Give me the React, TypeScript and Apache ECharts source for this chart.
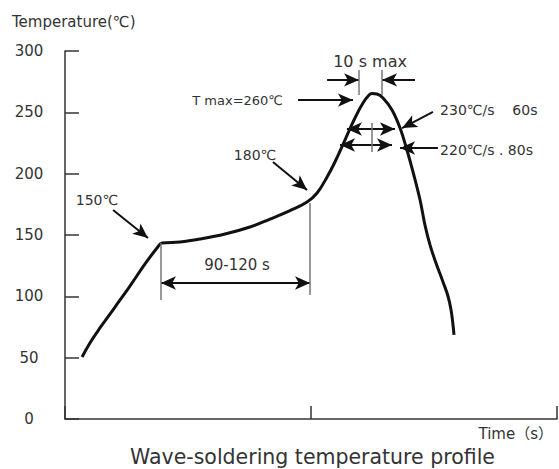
import React, { useEffect, useRef } from "react";
import * as echarts from "echarts";

// Curve (time in arbitrary seconds scale 0..300, temperature °C)
const timeS = [10.4, 15.2, 21.3, 30.5, 39.6, 48.8, 56.1, 59.1, 70.1, 82.3, 97.6, 112.8, 125.0, 137.2, 147.6, 153.7, 159.8, 164.6, 170.7, 176.8, 181.7, 185.4, 187.2, 190.2, 193.9, 199.4, 204.3, 208.5, 212.2, 216.5, 219.5, 222.6, 226.2, 230.5, 233.5, 235.4, 236.6, 237.2];
const tempC = [50.5, 62.0, 74.2, 91.3, 108.4, 126.4, 139.4, 143.5, 144.3, 146.7, 150.8, 156.5, 163.0, 169.9, 176.9, 184.2, 197.3, 209.5, 227.4, 245.4, 257.6, 264.1, 265.3, 264.9, 261.7, 251.9, 237.2, 219.3, 201.4, 178.5, 158.1, 141.8, 127.2, 111.7, 100.3, 88.9, 76.6, 68.5];
const yTicks = [0, 50, 100, 150, 200, 250, 300];
const xTicks = [0, 150, 300];

// Annotation arrows in data coordinates: [from, to]
const singleArrows: number[][][] = [
  [[29.3, 170.4], [50.6, 147.5]], // 150℃
  [[126.8, 209.5], [147.6, 186.7]], // 180℃
  [[142.1, 260], [175.6, 260]], // T max
  [[159.8, 276.4], [179.3, 276.4]], // 10 s max left
  [[213.4, 276.4], [193.3, 276.4]], // 10 s max right
  [[224.4, 250.3], [205.5, 237.2]], // 230℃/s
  [[227.4, 220.9], [204.3, 220.9]], // 220℃/s
  [[187.2, 236.4], [171.9, 236.4]],
  [[187.2, 236.4], [201.2, 236.4]],
  [[187.2, 223.4], [167.7, 223.4]],
  [[187.2, 223.4], [199.4, 223.4]],
];
const doubleArrows: number[][][] = [[[58.5, 110.9], [149.4, 110.9]]];
const guideLines: number[][][] = [
  [[58.5, 143.5], [58.5, 97]],
  [[149.4, 176], [149.4, 101]],
  [[179.3, 284.5], [179.3, 264.1]],
  [[193.3, 284.5], [193.3, 264.1]],
  [[187.2, 241.3], [187.2, 217.7]],
];
const labels: { text: string; at: number[]; align: string; size: number }[] = [
  { text: "150℃", at: [19.5, 178.5], align: "center", size: 14 },
  { text: "180℃", at: [115.9, 215.2], align: "center", size: 14 },
  { text: "90-120 s", at: [104.9, 125.5], align: "center", size: 15 },
  { text: "10 s max", at: [186, 291.8], align: "center", size: 16 },
  { text: "T max=260℃", at: [132.9, 260], align: "right", size: 13 },
  { text: "230℃/s    60s", at: [228.7, 251.9], align: "left", size: 14 },
  { text: "220℃/s . 80s", at: [228.7, 219.3], align: "left", size: 14 },
];

const FONT = "'DejaVu Sans', 'Noto Sans CJK SC', sans-serif";
const INK = "#111";
const TXT = "#333";

export default function App() {
  const ref = useRef<HTMLDivElement>(null);
  useEffect(() => {
    if (!ref.current) return;
    const chart = echarts.init(ref.current, undefined, { renderer: "svg" });
    const head = { symbol: "arrow", symbolSize: [10, 15] };
    const none = { symbol: "none" };
    const mlData: any[] = [];
    singleArrows.forEach(([a, b]) => mlData.push([{ coord: a, ...none }, { coord: b, ...head }]));
    doubleArrows.forEach(([a, b]) => mlData.push([{ coord: a, ...head }, { coord: b, ...head }]));
    guideLines.forEach(([a, b]) =>
      mlData.push([
        { coord: a, ...none, lineStyle: { color: "#777", width: 1.5, type: "solid" } },
        { coord: b, ...none },
      ])
    );
    chart.setOption({
      animation: false,
      backgroundColor: "#fff",
      grid: { left: 65, right: 2, top: 51, bottom: 50 },
      xAxis: {
        type: "value",
        min: xTicks[0],
        max: xTicks[xTicks.length - 1],
        interval: xTicks[1] - xTicks[0],
        axisLine: { lineStyle: { color: "#333", width: 1.5 } },
        axisTick: { inside: true, length: 13, lineStyle: { color: "#333", width: 1.5 } },
        axisLabel: { show: false },
        splitLine: { show: false },
      },
      yAxis: {
        type: "value",
        min: yTicks[0],
        max: yTicks[yTicks.length - 1],
        interval: yTicks[1] - yTicks[0],
        axisLine: { show: true, lineStyle: { color: "#333", width: 1.5 } },
        axisTick: { show: true, inside: true, length: 14, lineStyle: { color: "#333", width: 1.5 } },
        axisLabel: { color: TXT, fontFamily: FONT, fontSize: 15, align: "center", margin: 36 },
        splitLine: { show: false },
      },
      series: [
        {
          type: "line",
          data: timeS.map((t, i) => [t, tempC[i]]),
          smooth: 0.4,
          showSymbol: false,
          silent: true,
          lineStyle: { color: INK, width: 3 },
          markLine: {
            silent: true,
            symbol: ["none", "arrow"],
            label: { show: false },
            lineStyle: { color: INK, width: 2, type: "solid" },
            emphasis: { disabled: true },
            data: mlData,
          },
          markPoint: {
            silent: true,
            symbol: "circle",
            symbolSize: 0,
            data: labels.map((l) => ({
              coord: l.at,
              label: {
                show: true,
                position: "inside",
                formatter: l.text,
                align: l.align,
                verticalAlign: "middle",
                color: TXT,
                fontFamily: FONT,
                fontSize: l.size,
              },
            })),
          },
        },
      ],
      graphic: [
        {
          type: "text",
          left: 12,
          top: 14,
          style: { text: "Temperature(℃)", fill: TXT, font: `15px ${FONT}` },
        },
        {
          type: "text",
          right: 6,
          top: 426,
          style: { text: "Time（s）", fill: TXT, font: `15px ${FONT}` },
        },
        {
          type: "text",
          left: 130,
          top: 447,
          style: { text: "Wave-soldering temperature profile", fill: TXT, font: `20.5px ${FONT}` },
        },
      ],
    });
    return () => chart.dispose();
  }, []);
  return <div ref={ref} style={{ width: 559, height: 469, position: "absolute", left: 0, top: 0 }} />;
}
